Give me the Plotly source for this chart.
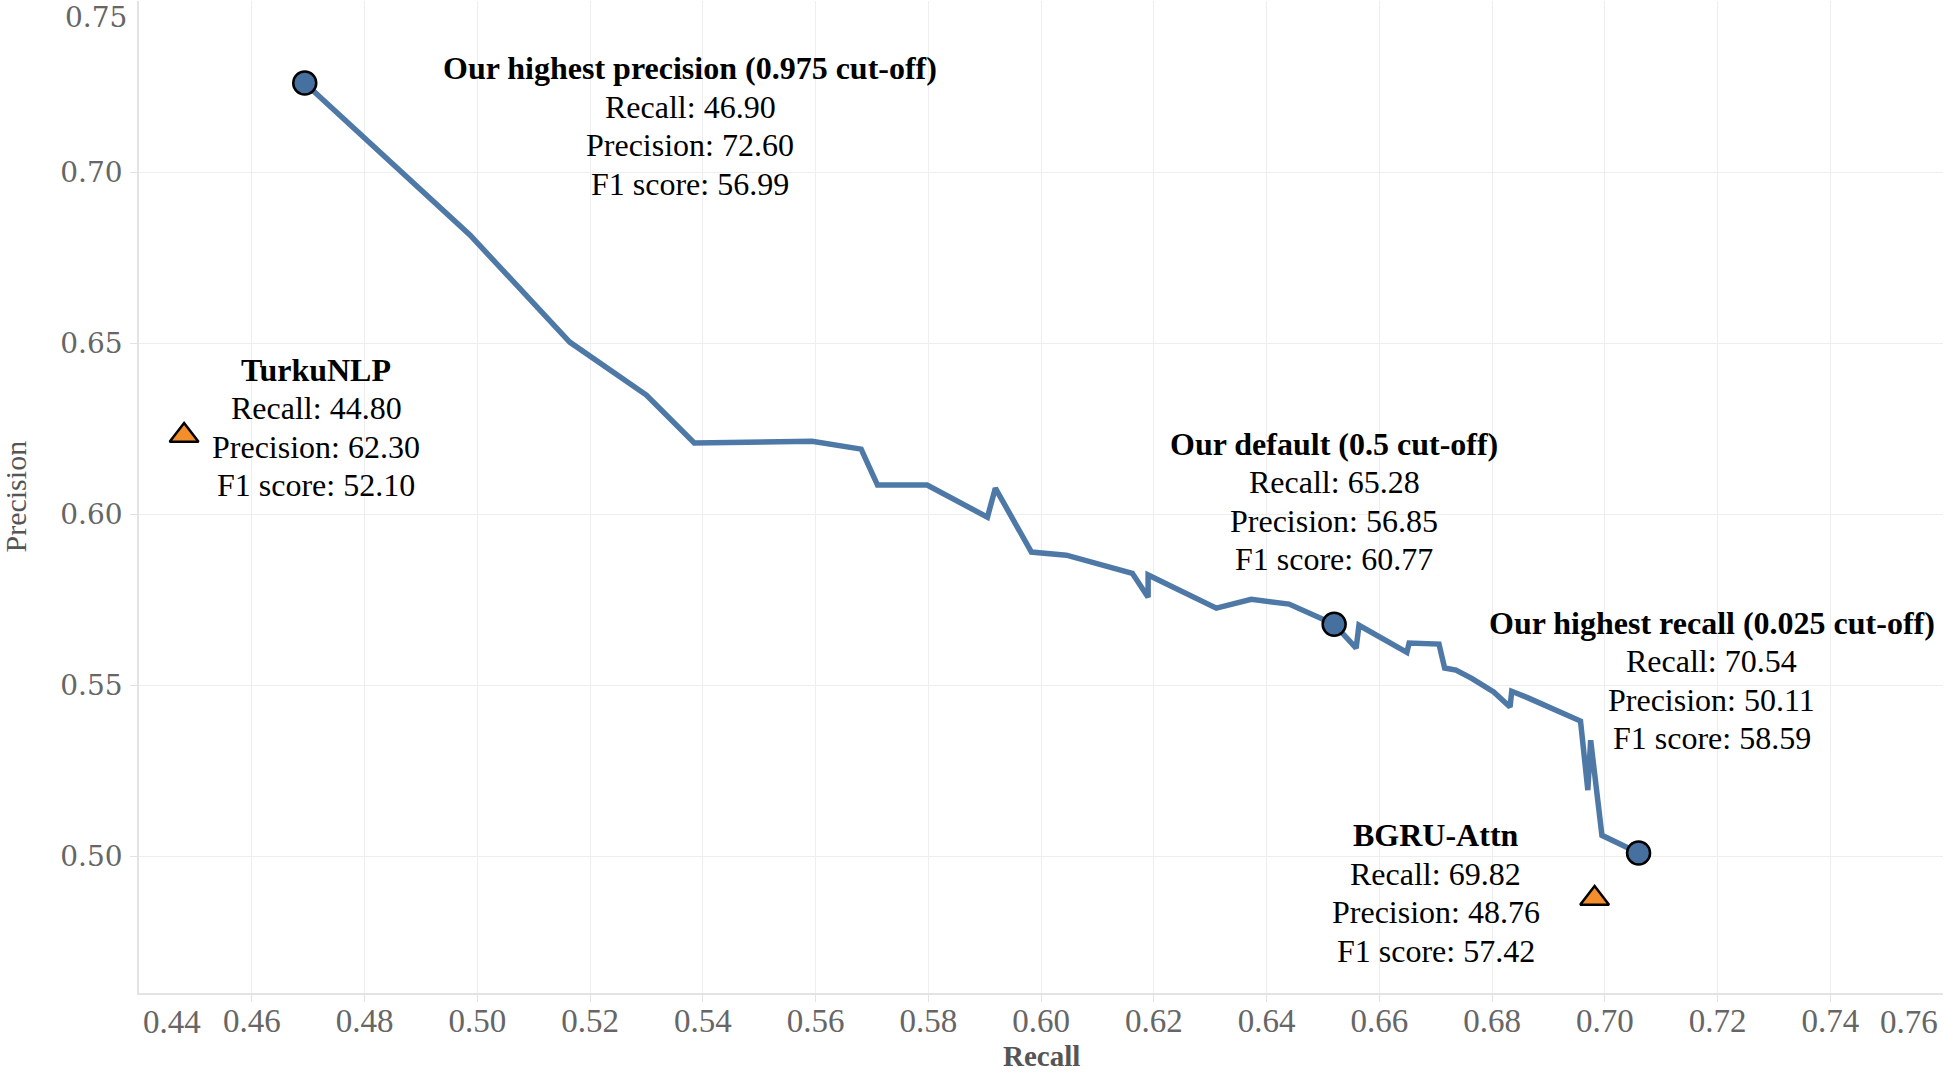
import plotly.graph_objects as go

# precision-recall curve
recall = [0.4694, 0.4987, 0.5164, 0.5300, 0.5385, 0.5594, 0.5681, 0.5710, 0.5798,
          0.5905, 0.5919, 0.5983, 0.6045, 0.6162, 0.6190, 0.6190, 0.6311, 0.6373,
          0.6440, 0.6520, 0.6559, 0.6564, 0.6649, 0.6653, 0.6706, 0.6716, 0.6736,
          0.6764, 0.6803, 0.6832, 0.6835, 0.6865, 0.6957, 0.6970, 0.6975, 0.6995,
          0.7060]
precision = [0.7260, 0.6816, 0.6503, 0.6348, 0.6208, 0.6213, 0.6190, 0.6085, 0.6085,
             0.5991, 0.6076, 0.5889, 0.5880, 0.5827, 0.5757, 0.5822, 0.5725, 0.5751,
             0.5737, 0.5678, 0.5608, 0.5675, 0.5596, 0.5623, 0.5620, 0.5550, 0.5544,
             0.5520, 0.5480, 0.5436, 0.5482, 0.5462, 0.5395, 0.5193, 0.5339, 0.5061,
             0.5009]

# cut-off points marked on the curve (indices into the curve)
cutoff_idx = [0, 19, 36]

# other systems
base_names = ['TurkuNLP', 'BGRU-Attn']
base_recall = [0.4480, 0.6982]
base_precision = [0.6230, 0.4876]

# text blocks: title, recall, precision, f1, label centre (x, y)
block_titles = ['Our highest precision (0.975 cut-off)', 'TurkuNLP', 'Our default (0.5 cut-off)',
                'Our highest recall (0.025 cut-off)', 'BGRU-Attn']
block_recall = ['46.90', '44.80', '65.28', '70.54', '69.82']
block_precision = ['72.60', '62.30', '56.85', '50.11', '48.76']
block_f1 = ['56.99', '52.10', '60.77', '58.59', '57.42']
block_x = [0.5378, 0.4714, 0.6520, 0.7190, 0.6700]
block_y = [0.7135, 0.6253, 0.6037, 0.5513, 0.4893]

x_ticks = [0.46, 0.48, 0.50, 0.52, 0.54, 0.56, 0.58, 0.60, 0.62, 0.64, 0.66, 0.68, 0.70, 0.72, 0.74]
y_ticks = [0.50, 0.55, 0.60, 0.65, 0.70]

blue = '#4e79a7'
orange = '#f28e2b'
serif = 'Liberation Serif'
xtickfont = dict(family=serif, size=33, color='#666666')
ytickfont = dict(family='DejaVu Serif', size=28, color='#666666')
line_gap = 38.5  # px between text lines

fig = go.Figure()

fig.add_trace(go.Scatter(x=recall, y=precision, mode='lines',
                         line=dict(color=blue, width=5.5), hoverinfo='skip'))

fig.add_trace(go.Scatter(x=[recall[i] for i in cutoff_idx], y=[precision[i] for i in cutoff_idx],
                         mode='markers', cliponaxis=False,
                         marker=dict(symbol='circle', size=23, color='#46709f',
                                     line=dict(color='black', width=2.5))))

fig.add_trace(go.Scatter(x=base_recall, y=base_precision, mode='markers', text=base_names,
                         cliponaxis=False,
                         marker=dict(symbol='triangle-up', size=25, color=orange,
                                     line=dict(color='black', width=2.5))))

for t, r, p, f, bx, by in zip(block_titles, block_recall, block_precision, block_f1, block_x, block_y):
    lines = ['<b>' + t + '</b>', 'Recall: ' + r, 'Precision: ' + p, 'F1 score: ' + f]
    for i, ln in enumerate(lines):
        fig.add_annotation(x=bx, y=by, xref='x', yref='y', text=ln, showarrow=False,
                           xanchor='center', yanchor='middle', yshift=(1.5 - i) * line_gap,
                           font=dict(family=serif, size=32, color='black'))

# edge tick labels, pushed inside like the original
fig.add_annotation(x=0.44, y=0, xref='x', yref='paper', text='0.44', showarrow=False,
                   xanchor='left', yanchor='top', yshift=-9, xshift=2, font=xtickfont)
fig.add_annotation(x=0.76, y=0, xref='x', yref='paper', text='0.76', showarrow=False,
                   xanchor='right', yanchor='top', yshift=-9, xshift=-3, font=xtickfont)
fig.add_annotation(x=0, y=0.75, xref='paper', yref='y', text='0.75', showarrow=False,
                   xanchor='right', yanchor='middle', yshift=-16, xshift=-10, font=ytickfont)

# axis titles
fig.add_annotation(x=0.5, y=-0.064, xref='paper', yref='paper', text='<b>Recall</b>', showarrow=False,
                   xanchor='center', yanchor='middle',
                   font=dict(family=serif, size=29, color='#555555'))
fig.add_annotation(x=-0.069, y=0.5, xref='paper', yref='paper', text='Precision', showarrow=False,
                   textangle=-90, xanchor='center', yanchor='middle',
                   font=dict(family=serif, size=30, color='#555555'))

fig.update_xaxes(range=[0.44, 0.76], tickvals=x_ticks, tickformat='.2f', tickfont=xtickfont,
                 showgrid=True, gridcolor='#eeeeee', gridwidth=1, zeroline=False,
                 showline=True, linecolor='#e3e3e3', linewidth=1.5,
                 ticks='outside', ticklen=7, tickcolor='#e3e3e3', ticklabelstandoff=-9)
fig.update_yaxes(range=[0.46, 0.75], tickvals=y_ticks, tickformat='.2f', tickfont=ytickfont,
                 showgrid=True, gridcolor='#eeeeee', gridwidth=1, zeroline=False,
                 showline=True, linecolor='#e3e3e3', linewidth=1.5,
                 ticks='outside', ticklen=7, tickcolor='#e3e3e3', ticklabelstandoff=2)

fig.update_layout(
    width=1944, height=1073,
    margin=dict(l=139, r=1, t=1, b=80),
    plot_bgcolor='white', paper_bgcolor='white',
    showlegend=False,
)

# the page body has an 8px default margin; drop it so the figure fills the window
fig.write_html("out.html", config={'displayModeBar': False},
               post_script="document.body.style.margin='0';")
